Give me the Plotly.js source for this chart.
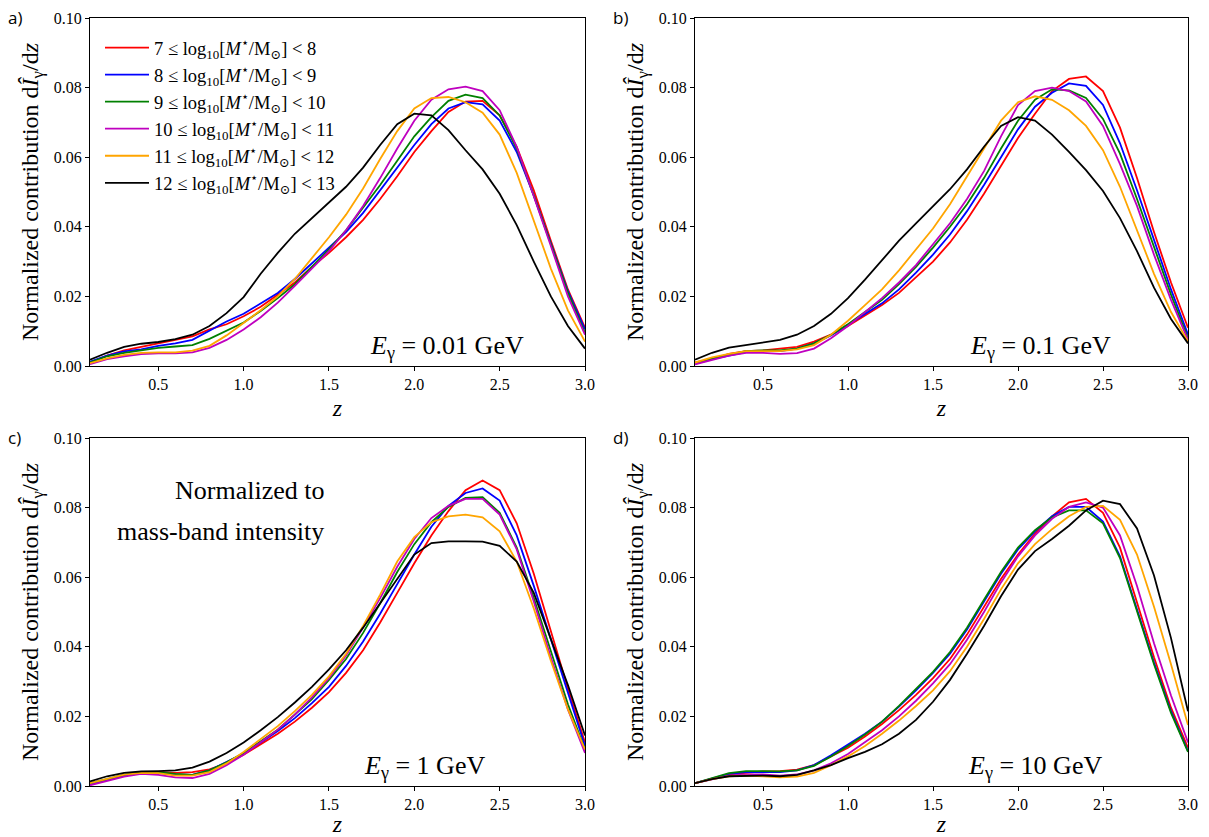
<!DOCTYPE html>
<html>
<head>
<meta charset="utf-8">
<script src="https://cdn.plot.ly/plotly-3.0.1.min.js"></script>
<style>html,body{margin:0;padding:0;background:#fff;}</style>
</head>
<body>
<div id="chart" style="width:1209px;height:837px;"></div>
<script>
const z = [0.1,0.2,0.3,0.4,0.5,0.6,0.7,0.8,0.9,1.0,1.1,1.2,1.3,1.4,1.5,1.6,1.7,1.8,1.9,2.0,2.1,2.2,2.3,2.4,2.5,2.6,2.7,2.8,2.9,3.0];

const bandLabels = [
  "7 ≤ log<sub>10</sub>[<i>M</i><sup>⋆</sup>/M<sub>⊙</sub>] &lt; 8",
  "8 ≤ log<sub>10</sub>[<i>M</i><sup>⋆</sup>/M<sub>⊙</sub>] &lt; 9",
  "9 ≤ log<sub>10</sub>[<i>M</i><sup>⋆</sup>/M<sub>⊙</sub>] &lt; 10",
  "10 ≤ log<sub>10</sub>[<i>M</i><sup>⋆</sup>/M<sub>⊙</sub>] &lt; 11",
  "11 ≤ log<sub>10</sub>[<i>M</i><sup>⋆</sup>/M<sub>⊙</sub>] &lt; 12",
  "12 ≤ log<sub>10</sub>[<i>M</i><sup>⋆</sup>/M<sub>⊙</sub>] &lt; 13"
];
const bandColors = ["#ff0000","#0000ff","#008000","#bf00bf","#ffa500","#000000"];

const panelLabels = ["a)","b)","c)","d)"];
const energyLabels = ["0.01","0.1","1","10"];
const noteLines = ["Normalized to", "mass-band intensity"];

// Panel a: E = 0.01 GeV
const a_m7  = [0.001,0.003,0.0045,0.0055,0.0065,0.0075,0.0085,0.0105,0.012,0.0143,0.017,0.0205,0.024,0.0285,0.0325,0.037,0.042,0.048,0.0545,0.0615,0.0675,0.073,0.076,0.0762,0.072,0.063,0.0505,0.036,0.022,0.011];
const a_m8  = [0.0012,0.003,0.0042,0.0048,0.0058,0.0065,0.0075,0.0102,0.0128,0.015,0.018,0.021,0.025,0.0295,0.034,0.0385,0.044,0.0505,0.057,0.0635,0.0695,0.074,0.0758,0.0752,0.0705,0.0615,0.049,0.035,0.0215,0.0105];
const a_m9  = [0.001,0.0028,0.0038,0.0045,0.0052,0.0056,0.006,0.0078,0.0102,0.0125,0.0158,0.0195,0.0235,0.0285,0.0335,0.039,0.0455,0.052,0.059,0.066,0.0715,0.0762,0.078,0.077,0.072,0.0625,0.049,0.035,0.021,0.0095];
const a_m10 = [0.0005,0.002,0.0028,0.0034,0.0036,0.0036,0.0039,0.0052,0.0075,0.0105,0.014,0.0182,0.023,0.028,0.033,0.039,0.046,0.054,0.0625,0.0705,0.0765,0.0795,0.0803,0.079,0.0735,0.063,0.049,0.0345,0.02,0.009];
const a_m11 = [0.0008,0.0022,0.0032,0.0038,0.0039,0.0039,0.0044,0.0058,0.0088,0.0123,0.016,0.02,0.025,0.031,0.037,0.0435,0.051,0.0595,0.0675,0.074,0.077,0.0773,0.0758,0.0728,0.0665,0.0555,0.042,0.028,0.016,0.007];
const a_m12 = [0.0018,0.0038,0.0055,0.0064,0.0069,0.0077,0.009,0.0115,0.0152,0.0198,0.0265,0.0325,0.038,0.0425,0.047,0.0515,0.057,0.0635,0.0695,0.0725,0.072,0.0678,0.062,0.0565,0.0495,0.0405,0.03,0.02,0.0115,0.005];

// Panel b: E = 0.1 GeV
const b_m7  = [0.001,0.002,0.0035,0.0043,0.0045,0.005,0.0055,0.007,0.009,0.0115,0.0145,0.0175,0.021,0.0255,0.030,0.0355,0.042,0.0495,0.0575,0.0655,0.0725,0.079,0.0825,0.0832,0.079,0.0685,0.054,0.0385,0.024,0.011];
const b_m8  = [0.0006,0.002,0.003,0.004,0.0043,0.0043,0.005,0.0065,0.0088,0.0118,0.015,0.018,0.022,0.0268,0.032,0.0378,0.0445,0.052,0.060,0.068,0.0745,0.0785,0.0812,0.0805,0.075,0.064,0.0505,0.036,0.022,0.009];
const b_m9  = [0.0008,0.0022,0.0033,0.0043,0.0045,0.0045,0.005,0.0065,0.009,0.012,0.0155,0.019,0.0235,0.0285,0.034,0.040,0.0465,0.054,0.0625,0.0705,0.0765,0.0795,0.0792,0.077,0.071,0.061,0.048,0.034,0.0205,0.008];
const b_m10 = [0.0005,0.0018,0.003,0.0038,0.0038,0.0035,0.0037,0.005,0.008,0.0115,0.0155,0.0195,0.024,0.029,0.035,0.041,0.048,0.056,0.066,0.075,0.079,0.080,0.079,0.076,0.069,0.058,0.046,0.032,0.019,0.0075];
const b_m11 = [0.001,0.0025,0.0035,0.0043,0.0043,0.0043,0.0048,0.006,0.009,0.013,0.0175,0.022,0.0275,0.0335,0.0395,0.0465,0.0545,0.0625,0.0705,0.0758,0.0775,0.0765,0.0735,0.069,0.062,0.0515,0.039,0.0265,0.0155,0.007];
const b_m12 = [0.0018,0.0038,0.0053,0.006,0.0067,0.0075,0.009,0.0115,0.015,0.0195,0.0248,0.0305,0.036,0.041,0.046,0.0508,0.0565,0.063,0.069,0.0715,0.0705,0.0665,0.0615,0.0563,0.0503,0.0425,0.033,0.0225,0.0135,0.0065];

// Panel c: E = 1 GeV
const c_m7  = [0.0005,0.0018,0.003,0.0037,0.004,0.0038,0.004,0.0048,0.0065,0.009,0.012,0.015,0.0185,0.0225,0.027,0.0325,0.039,0.047,0.0555,0.064,0.072,0.079,0.085,0.0878,0.085,0.0755,0.061,0.0445,0.028,0.0125];
const c_m8  = [0.0005,0.0018,0.003,0.0036,0.0037,0.0033,0.0032,0.0045,0.0068,0.0093,0.0125,0.0158,0.0195,0.0238,0.0285,0.0345,0.0415,0.0495,0.058,0.0665,0.0745,0.0805,0.0842,0.0855,0.082,0.072,0.0575,0.042,0.0265,0.0115];
const c_m9  = [0.0008,0.002,0.0032,0.004,0.004,0.0035,0.0032,0.0045,0.0068,0.0095,0.0128,0.0162,0.0205,0.025,0.0305,0.0365,0.044,0.0525,0.0615,0.0695,0.0758,0.0802,0.0828,0.083,0.0785,0.0685,0.054,0.0385,0.0235,0.0105];
const c_m10 = [0.0002,0.0015,0.0027,0.0035,0.0032,0.0025,0.0023,0.0035,0.006,0.009,0.0125,0.0162,0.0205,0.0255,0.031,0.0375,0.0455,0.054,0.063,0.071,0.077,0.0805,0.0825,0.0825,0.078,0.068,0.053,0.037,0.022,0.0095];
const c_m11 = [0.0008,0.002,0.0033,0.0038,0.0037,0.003,0.003,0.004,0.0065,0.0098,0.0135,0.0172,0.0215,0.0262,0.0315,0.038,0.046,0.055,0.0645,0.0715,0.0758,0.0775,0.078,0.0772,0.0732,0.0645,0.051,0.036,0.022,0.0105];
const c_m12 = [0.0013,0.0028,0.0038,0.0042,0.0043,0.0045,0.0053,0.007,0.0095,0.0125,0.016,0.0198,0.024,0.0285,0.0335,0.039,0.0455,0.0525,0.0595,0.0665,0.0698,0.0703,0.0703,0.0702,0.069,0.0645,0.0555,0.0425,0.029,0.0145];

// Panel d: E = 10 GeV
const d_m7  = [0.0008,0.002,0.0033,0.0038,0.0042,0.0043,0.0047,0.006,0.0085,0.011,0.0142,0.0178,0.0218,0.0262,0.031,0.0365,0.0435,0.0515,0.0595,0.0665,0.0725,0.0775,0.0815,0.0825,0.0785,0.0685,0.053,0.037,0.0225,0.011];
const d_m8  = [0.0008,0.0022,0.0035,0.004,0.004,0.004,0.0045,0.006,0.0088,0.0118,0.015,0.0185,0.0228,0.0275,0.0325,0.038,0.045,0.053,0.061,0.068,0.0732,0.0775,0.0802,0.0802,0.076,0.066,0.051,0.0355,0.0215,0.010];
const d_m9  = [0.0008,0.0022,0.0037,0.0043,0.0043,0.0042,0.0045,0.0058,0.0085,0.0115,0.0148,0.0185,0.023,0.0278,0.0328,0.0385,0.0455,0.0535,0.0615,0.0685,0.0735,0.0772,0.0792,0.0792,0.0755,0.0655,0.0505,0.035,0.021,0.0098];
const d_m10 = [0.0008,0.002,0.003,0.0033,0.0033,0.003,0.0033,0.0045,0.0065,0.0092,0.0125,0.016,0.02,0.0245,0.0295,0.035,0.042,0.050,0.0585,0.066,0.072,0.0768,0.0802,0.0815,0.080,0.072,0.0575,0.041,0.026,0.0125];
const d_m11 = [0.0008,0.002,0.0028,0.003,0.0028,0.0025,0.0027,0.0038,0.006,0.0085,0.0115,0.015,0.0188,0.023,0.0275,0.033,0.040,0.048,0.0565,0.064,0.0695,0.0738,0.0775,0.0802,0.0805,0.0765,0.0665,0.0515,0.035,0.0175];
const d_m12 = [0.0008,0.002,0.0028,0.003,0.003,0.0028,0.0032,0.0045,0.006,0.008,0.0098,0.012,0.015,0.019,0.0242,0.0305,0.038,0.046,0.0545,0.0622,0.0675,0.071,0.0748,0.0792,0.082,0.081,0.074,0.0605,0.0425,0.0215];

const panels = [
  [a_m7,a_m8,a_m9,a_m10,a_m11,a_m12],
  [b_m7,b_m8,b_m9,b_m10,b_m11,b_m12],
  [c_m7,c_m8,c_m9,c_m10,c_m11,c_m12],
  [d_m7,d_m8,d_m9,d_m10,d_m11,d_m12]
];

const W = 1209, H = 837;
const serif = "'Liberation Serif', 'DejaVu Serif', serif";
const sans = "'Open Sans', 'Liberation Sans', sans-serif";
// plot-area pixel boxes [left, right, top, bottom]
const boxes = [[90,585,18,366],[695,1188,18,366],[90,585,438,786],[695,1188,438,786]];

const traces = [];
panels.forEach((series, p) => {
  const sfx = p === 0 ? "" : String(p + 1);
  series.forEach((ys, i) => {
    traces.push({
      x: z, y: ys, type: "scatter", mode: "lines",
      name: bandLabels[i],
      line: {color: bandColors[i], width: 1.8},
      xaxis: "x" + sfx, yaxis: "y" + sfx,
      showlegend: p === 0,
      hoverinfo: "skip"
    });
  });
});

const layout = {
  width: W, height: H, autosize: false,
  margin: {l: 0, r: 0, t: 0, b: 0},
  paper_bgcolor: "#fff", plot_bgcolor: "#fff",
  font: {family: serif, color: "#000", size: 16},
  showlegend: true,
  legend: {
    x: 100 / W, y: 1 - 29 / H, xanchor: "left", yanchor: "top",
    bgcolor: "rgba(0,0,0,0)", borderwidth: 0,
    font: {family: serif, size: 18.5, color: "#000"},
    itemwidth: 44,
    tracegroupgap: 0
  },
  annotations: [],
  shapes: []
};

boxes.forEach((b, p) => {
  const sfx = p === 0 ? "" : String(p + 1);
  const xa = {
    domain: [b[0] / W, b[1] / W],
    range: [0.1, 3.0],
    anchor: "y" + sfx,
    tickvals: [0.5, 1.0, 1.5, 2.0, 2.5, 3.0],
    ticktext: ["0.5", "1.0", "1.5", "2.0", "2.5", "3.0"],
    ticks: "outside", ticklen: 4, tickwidth: 1, tickcolor: "#000",
    showline: true, linecolor: "#000", linewidth: 1, mirror: true,
    showgrid: false, zeroline: false,
    tickfont: {family: serif, size: 16, color: "#000"},
    title: {text: "<i>z</i>", font: {family: serif, size: 24, color: "#000"}, standoff: 6}
  };
  const ya = {
    domain: [1 - b[3] / H, 1 - b[2] / H],
    range: [0, 0.1],
    anchor: "x" + sfx,
    tickvals: [0, 0.02, 0.04, 0.06, 0.08, 0.10],
    ticktext: ["0.00", "0.02", "0.04", "0.06", "0.08", "0.10"],
    ticks: "outside", ticklen: 4, tickwidth: 1, tickcolor: "#000",
    showline: true, linecolor: "#000", linewidth: 1, mirror: true,
    showgrid: false, zeroline: false,
    tickfont: {family: serif, size: 16, color: "#000"},
    title: {text: "Normalized contribution d<i>Î</i><sub>γ</sub>/d<i>z</i>", font: {family: serif, size: 24, color: "#000"}, standoff: 8}
  };
  layout["xaxis" + sfx] = xa;
  layout["yaxis" + sfx] = ya;

  layout.annotations.push({
    xref: "paper", yref: "paper",
    x: (b[0] - 84) / W, y: 1 - (b[2] - 14) / H,
    xanchor: "left", yanchor: "top",
    text: panelLabels[p], showarrow: false,
    font: {family: sans, size: 17, color: "#000"}
  });
  layout.annotations.push({
    xref: "x" + sfx, yref: "y" + sfx,
    x: [2.19, 2.13, 2.06, 2.1][p], y: 0.0055,
    xanchor: "center", yanchor: "middle",
    text: "<i>E</i><sub>γ</sub> = " + energyLabels[p] + " GeV", showarrow: false,
    font: {family: serif, size: 26, color: "#000"}
  });
});

noteLines.forEach((t, i) => {
  layout.annotations.push({
    xref: "x3", yref: "y3", x: 1.48, y: [0.085, 0.073][i],
    xanchor: "right", yanchor: "middle", align: "right",
    text: t, showarrow: false,
    font: {family: serif, size: 26, color: "#000"}
  });
});

Plotly.newPlot("chart", traces, layout, {displayModeBar: false, staticPlot: true});
</script>
</body>
</html>
